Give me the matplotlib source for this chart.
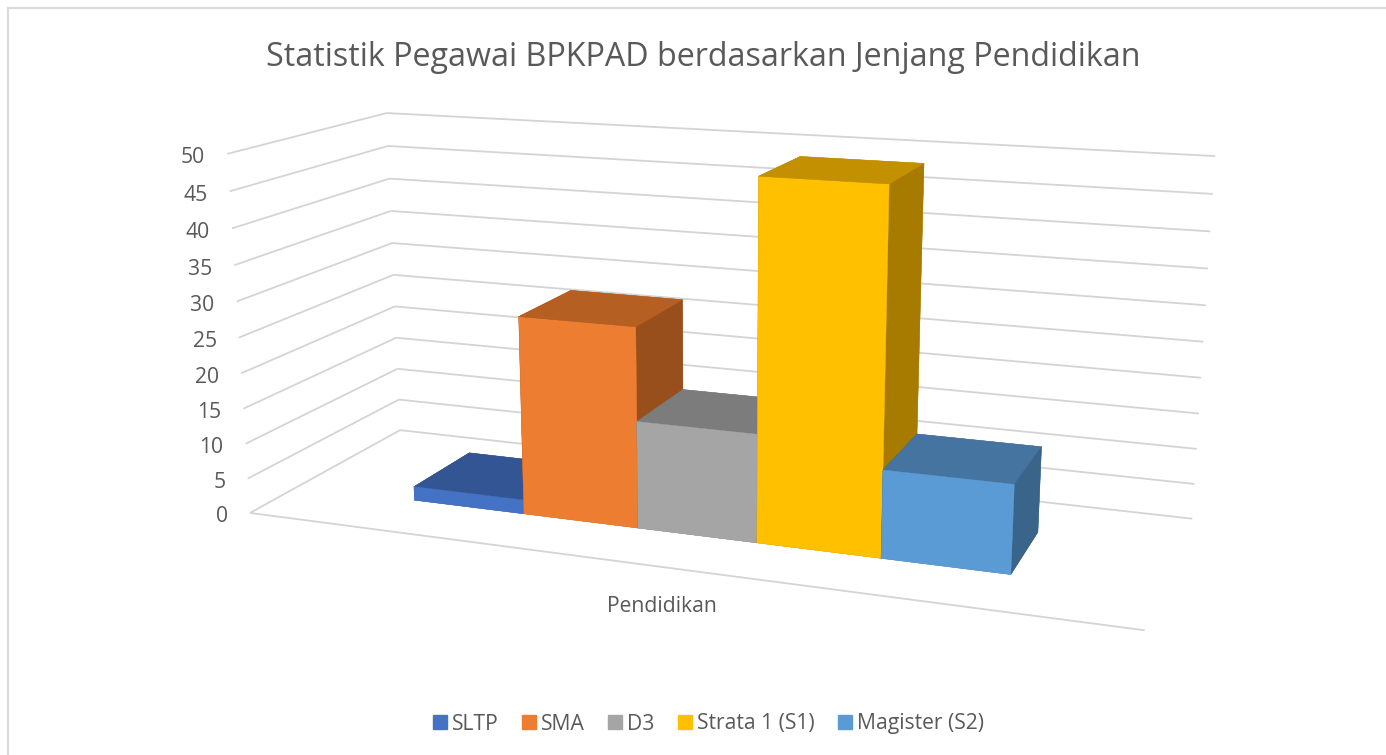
import matplotlib
matplotlib.use("Agg")
import matplotlib.pyplot as plt
import numpy as np
from matplotlib.patches import Patch, Rectangle
from mpl_toolkits.mplot3d import proj3d
from mpl_toolkits.mplot3d.art3d import Line3DCollection

plt.rcParams["font.family"] = ["Open Sans", "DejaVu Sans"]

series = ["SLTP", "SMA", "D3", "Strata 1 (S1)", "Magister (S2)"]
values = [2, 28, 15, 49, 12]
ticks = [0, 5, 10, 15, 20, 25, 30, 35, 40, 45, 50]
front_colors = ["#4472C4", "#ED7D31", "#A5A5A5", "#FFC000", "#5B9BD5"]
top_colors = ["#335593", "#B65F22", "#7C7C7C", "#C29000", "#44749F"]
side_colors = ["#2C4A80", "#994F1C", "#6A6A6A", "#A67B00", "#3A6489"]

W, H = 1386, 755
margin = 1.1
floor_w = 5 + 2 * margin
bar_front, bar_depth = 0.3, 0.4

# where the corners of the chart box sit in the picture (x, depth, value) -> pixel
corners = [
    ((0, 0, 0), (250, 513)),
    ((0, 1, 0), (400, 430)),
    ((floor_w, 1, 0), (1192, 519)),
    ((floor_w, 0, 0), (1145, 630)),
    ((0, 1, 50), (387, 113)),
    ((floor_w, 1, 50), (1215, 156)),
    ((0, 0, 50), (227, 154)),
]

fig = plt.figure(figsize=(W / 100, H / 100), dpi=100)
ax = fig.add_axes([0, 0, 1, 1], projection="3d")
ax.apply_aspect = lambda position=None: None
ax.set_axis_off()
ax.patch.set_visible(False)
ax.computed_zorder = False


def fit_projection():
    rows, rhs = [], []
    for (x, y, z), (px, py) in corners:
        u, v = ax.transData.inverted().transform((px, H - py))
        rows.append([x, y, z, 1, 0, 0, 0, 0, -u * x, -u * y, -u * z])
        rhs.append(u)
        rows.append([0, 0, 0, 0, x, y, z, 1, -v * x, -v * y, -v * z])
        rhs.append(v)
    p = np.linalg.lstsq(np.array(rows), np.array(rhs), rcond=None)[0]
    p = np.append(p, 1.0).reshape(3, 4)
    # depth row only decides the painter order: left, back and bottom go first
    depth = 20 * p[2] + np.array([-1.0, 3.0, -0.05, 0.0])
    return np.vstack([p[0], p[1], depth, p[2]])


M = fit_projection()
ax.get_proj = lambda: M

# walls and floor
segments = []
for t in ticks:
    segments.append([(0, 0, t), (0, 1, t)])
    segments.append([(0, 1, t), (floor_w, 1, t)])
segments.append([(0, 0, 0), (floor_w, 0, 0)])
grid = Line3DCollection(segments, colors="#D4D4D4", linewidths=1.3, zorder=1)
ax.add_collection3d(grid)

for i, v in enumerate(values):
    faces = [top_colors[i], top_colors[i], front_colors[i], top_colors[i], side_colors[i], side_colors[i]]
    ax.bar3d(margin + i, bar_front, 0, 1, bar_depth, v, color=faces, shade=False,
             edgecolor=faces, linewidth=0.3, zorder=2 + i)

for t in ticks:
    u, v, _ = proj3d.proj_transform(0, 0, t, M)
    ax.annotate(str(t), xy=(u, v), xytext=(-22, -4), textcoords="offset pixels", ha="right", va="center",
                fontsize=15.2, color="#595959", annotation_clip=False)

fig.text(703 / W, 1 - 57 / H, "Statistik Pegawai BPKPAD berdasarkan Jenjang Pendidikan",
         ha="center", va="center", fontsize=23.2, color="#595959")
fig.text(662 / W, 1 - 607 / H, "Pendidikan", ha="center", va="center", fontsize=15.2, color="#595959")

handles = [Patch(color=c) for c in front_colors]
fig.legend(handles, series, loc="center", bbox_to_anchor=(708.5 / W, 1 - 724 / H), ncol=5, frameon=False,
           fontsize=15.2, labelcolor="#595959", handlelength=0.66, handleheight=0.66,
           handletextpad=0.25, columnspacing=1.1)

fig.add_artist(Rectangle((7.5 / W, -0.1), 1.2, 1.1 - 8.5 / H, transform=fig.transFigure,
                         fill=False, edgecolor="#D9D9D9", lw=1.5))

fig.savefig("out.png", dpi=100)
